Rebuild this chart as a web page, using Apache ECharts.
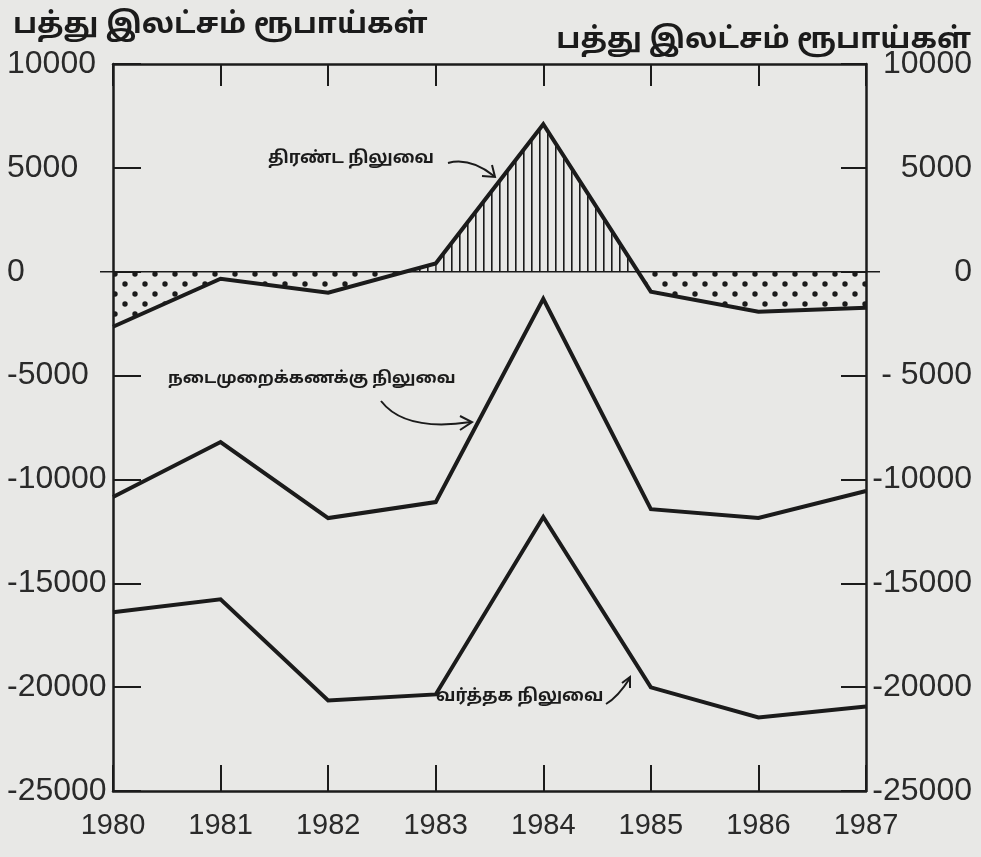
<!DOCTYPE html>
<html>
<head>
<meta charset="utf-8">
<script src="https://cdn.jsdelivr.net/npm/echarts@6/dist/echarts.min.js"></script>
<style>
  html, body { margin: 0; padding: 0; background: #e8e8e6; }
  #chart { width: 981px; height: 857px; }
</style>
</head>
<body>
<div id="chart"></div>
<script>
// ஆண்டுகள்
var years = ["1980", "1981", "1982", "1983", "1984", "1985", "1986", "1987"];
// பத்து இலட்சம் ரூபாய்கள்
var overallBalance = [-2650, -340, -1010, 400, 7100, -960, -1930, -1740];
var currentAccountBalance = [-10850, -8200, -11860, -11090, -1300, -11430, -11860, -10560];
var tradeBalance = [-16390, -15770, -20640, -20350, -11810, -20010, -21460, -20930];
var tickValues = [10000, 5000, 0, -5000, -10000, -15000, -20000, -25000];
var leftTickLabels = ["10000", "5000", "0", "-5000", "-10000", "-15000", "-20000", "-25000"];
var rightTickLabels = ["10000", "5000", "0", "- 5000", "-10000", "-15000", "-20000", "-25000"];

var ink = "#1b1b1b";
var numFont = "'Liberation Sans', Arial, sans-serif";
var tamilFont = "'Noto Sans Tamil', 'Lohit Tamil', 'Latha', 'Noto Sans', sans-serif";

// hatch / dot fills
function makeHatch() {
  var c = document.createElement("canvas");
  c.width = 8; c.height = 8;
  var g = c.getContext("2d");
  g.fillStyle = ink;
  g.fillRect(3, 0, 1.6, 8);
  return c;
}
function makeDots() {
  var c = document.createElement("canvas");
  c.width = 20; c.height = 20;
  var g = c.getContext("2d");
  g.fillStyle = ink;
  g.beginPath(); g.arc(5, 4, 2.7, 0, Math.PI * 2); g.fill();
  g.beginPath(); g.arc(15, 14, 2.7, 0, Math.PI * 2); g.fill();
  return c;
}
var hatchFill = { image: makeHatch(), repeat: "repeat" };
var dotFill = { image: makeDots(), repeat: "repeat" };

function areaPiece(points, v) {
  return { type: "polygon", shape: { points: points }, style: { fill: v >= 0 ? hatchFill : dotFill } };
}

function renderFill(params, api) {
  var i = params.dataIndex;
  if (i >= years.length - 1) return;
  var a = overallBalance[i], b = overallBalance[i + 1];
  var p0 = api.coord([i, a]), p1 = api.coord([i + 1, b]);
  var z0 = api.coord([i, 0]), z1 = api.coord([i + 1, 0]);
  var children = [];
  if ((a >= 0) === (b >= 0)) {
    children.push(areaPiece([p0, p1, z1, z0], a));
  } else {
    var t = a / (a - b);
    var xc = p0[0] + t * (p1[0] - p0[0]);
    var c = [xc, z0[1]];
    children.push(areaPiece([p0, c, z0], a));
    children.push(areaPiece([c, p1, z1], b));
  }
  return { type: "group", children: children };
}

function lineSeries(name, data) {
  return {
    name: name,
    type: "line",
    data: data,
    symbol: "none",
    z: 5,
    lineStyle: { color: ink, width: 4, join: "miter" }
  };
}

var chart = echarts.init(document.getElementById("chart"));

var option = {
  backgroundColor: "#e8e8e6",
  animation: false,
  title: [
    { text: "பத்து இலட்சம் ரூபாய்கள்", left: 8, top: 8,
      textStyle: { fontFamily: tamilFont, fontSize: 29, fontWeight: "bold", color: ink } },
    { text: "பத்து இலட்சம் ரூபாய்கள்", right: 5, top: 23,
      textStyle: { fontFamily: tamilFont, fontSize: 29, fontWeight: "bold", color: ink } }
  ],
  grid: { left: 113, right: 115, top: 64, bottom: 66 },
  xAxis: [
    {
      type: "category",
      data: years,
      boundaryGap: false,
      position: "bottom",
      axisLine: { onZero: false, lineStyle: { color: ink, width: 2.5 } },
      axisTick: { inside: true, length: 26, lineStyle: { color: ink, width: 2 } },
      axisLabel: { fontFamily: numFont, fontSize: 29, color: "#2a2a2a", margin: 20 },
      splitLine: { show: false }
    },
    {
      type: "category",
      data: years,
      boundaryGap: false,
      position: "top",
      axisLine: { onZero: false, lineStyle: { color: ink, width: 2.5 } },
      axisTick: { inside: true, length: 22, lineStyle: { color: ink, width: 2 } },
      axisLabel: { show: false },
      splitLine: { show: false }
    }
  ],
  yAxis: [
    {
      type: "value",
      position: "left",
      min: -25000, max: 10000, interval: 5000,
      axisLine: { show: true, lineStyle: { color: ink, width: 2.5 } },
      axisTick: { show: true, inside: true, length: 28, lineStyle: { color: ink, width: 2 } },
      axisLabel: {
        fontFamily: numFont, fontSize: 32, color: "#2a2a2a", margin: 106, align: "left",
        formatter: function (v) { return leftTickLabels[tickValues.indexOf(v)]; }
      },
      splitLine: { show: false }
    },
    {
      type: "value",
      position: "right",
      min: -25000, max: 10000, interval: 5000,
      axisLine: { show: true, lineStyle: { color: ink, width: 2.5 } },
      axisTick: { show: true, inside: true, length: 25, lineStyle: { color: ink, width: 2 } },
      axisLabel: {
        fontFamily: numFont, fontSize: 32, color: "#2a2a2a", margin: 106, align: "right",
        formatter: function (v) { return rightTickLabels[tickValues.indexOf(v)]; }
      },
      splitLine: { show: false }
    }
  ],
  series: [
    {
      name: "fill",
      type: "custom",
      renderItem: renderFill,
      data: overallBalance.map(function (v, i) { return [i, v]; }),
      z: 2,
      silent: true
    },
    lineSeries("திரண்ட நிலுவை", overallBalance),
    lineSeries("நடைமுறைக்கணக்கு நிலுவை", currentAccountBalance),
    lineSeries("வர்த்தக நிலுவை", tradeBalance)
  ]
};

chart.setOption(option);

// zero line running a bit past both axes, and the hand-drawn labels with arrows
var y0 = chart.convertToPixel({ yAxisIndex: 0 }, 0);
var labelStyle = { fontFamily: tamilFont, fontSize: 17, fontWeight: "bold", fill: ink };
var arrowStyle = { stroke: ink, lineWidth: 2, fill: "none" };

chart.setOption({
  graphic: [
    { type: "line", shape: { x1: 100, y1: y0, x2: 880, y2: y0 }, style: { stroke: ink, lineWidth: 1.6 }, z: 4 },

    { type: "text", left: 268, top: 151, style: Object.assign({ text: "திரண்ட நிலுவை" }, labelStyle) },
    { type: "bezierCurve", shape: { x1: 448, y1: 163, cpx1: 470, cpy1: 157, x2: 494, y2: 176 }, style: arrowStyle },
    { type: "polyline", shape: { points: [[482, 176], [495, 177], [492, 165]] }, style: arrowStyle },

    { type: "text", left: 168, top: 371, style: Object.assign({ text: "நடைமுறைக்கணக்கு நிலுவை" }, labelStyle, { fontSize: 16.5 }) },
    { type: "bezierCurve", shape: { x1: 381, y1: 401, cpx1: 405, cpy1: 432, x2: 471, y2: 422 }, style: arrowStyle },
    { type: "polyline", shape: { points: [[460, 416], [472, 422], [460, 430]] }, style: arrowStyle },

    { type: "text", left: 436, top: 689, style: Object.assign({ text: "வர்த்தக நிலுவை" }, labelStyle) },
    { type: "bezierCurve", shape: { x1: 606, y1: 704, cpx1: 618, cpy1: 697, x2: 630, y2: 678 }, style: arrowStyle },
    { type: "polyline", shape: { points: [[622, 683], [630, 677], [630, 688]] }, style: arrowStyle }
  ]
});
</script>
</body>
</html>
